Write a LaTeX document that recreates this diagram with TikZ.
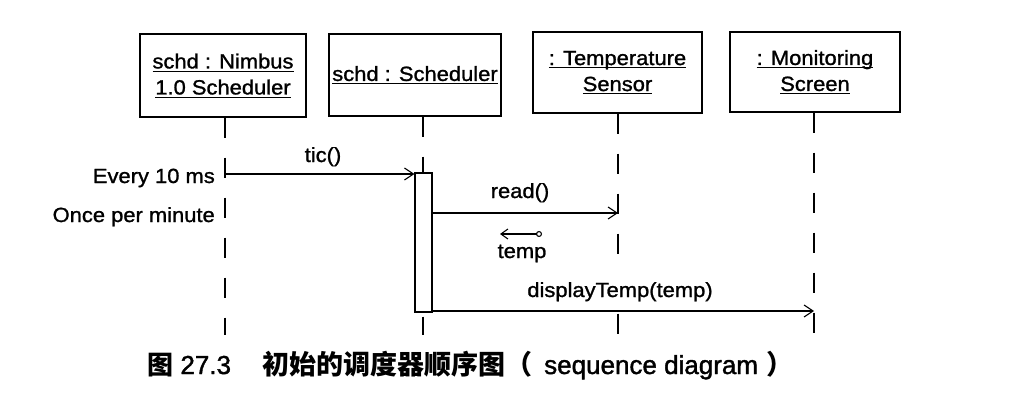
\documentclass[tikz,border=0pt]{standalone}
\usepackage{fontspec}
\setmainfont{Liberation Sans}[FakeStretch=1.07,FakeBold=1.2]
\newfontfamily\capfont{Liberation Sans}[FakeBold=1.5]
\newfontfamily\cjk{Noto Sans CJK SC}
\usetikzlibrary{arrows.meta}
\newcommand\myul[1]{\setbox0\hbox{#1}\rlap{\rule[-3pt]{\wd0}{0.9pt}}\box0}
\begin{document}
\begin{tikzpicture}[x=1pt,y=-1pt,
  obj/.style={draw, line width=1.3pt, inner sep=0pt, align=center, font=\fontsize{20.5}{26}\selectfont},
  life/.style={line width=1.2pt, dash pattern=on 20pt off 20pt},
  msg/.style={line width=1.1pt, -{Straight Barb[length=9pt,width=12pt,line width=1.1pt]}},
  lbl/.style={font=\fontsize{20.5}{24}\selectfont, inner sep=0pt}]
\useasboundingbox (0,0) rectangle (1012,409);
% objects
\node[obj, minimum width=166pt, minimum height=83pt] (b1) at (223,75.5) {\myul{schd : Nimbus}\\\myul{1.0 Scheduler}};
\node[obj, minimum width=172pt, minimum height=82pt] (b2) at (415,75) {\myul{schd : Scheduler}};
\node[obj, minimum width=169pt, minimum height=81pt] (b3) at (617.5,72.5) {\myul{: Temperature}\\\myul{Sensor}};
\node[obj, minimum width=170pt, minimum height=80pt] (b4) at (815,72) {\myul{: Monitoring}\\\myul{Screen}};
% lifeline ends
\coordinate (l1) at (225,335);
\coordinate (l2) at (423,335);
\coordinate (l3) at (618,335);
\coordinate (l4) at (814,335);
\draw[life] (l1 |- b1.south) -- (l1);
\draw[life] (l2 |- b2.south) -- (l2);
\draw[life] (l3 |- b3.south) -- (l3);
\draw[life] (l4 |- b4.south) -- (l4);
% activation
\node[draw, fill=white, line width=1.1pt, minimum width=17pt, minimum height=139pt, inner sep=0pt] (act) at (423.5,242.5) {};
% labels
\node[lbl, anchor=base] (tic) at (323,162) {tic()};
\node[lbl, anchor=base east] (every) at (215,183) {Every 10 ms};
\node[lbl, anchor=base east] (once) at (215,222) {Once per minute};
\node[lbl, anchor=base] (read) at (520,198) {read()};
\node[lbl, anchor=base] (temp) at (522,258) {temp};
\node[lbl, anchor=base, fill=white, inner ysep=9pt] (disp) at (620,297) {displayTemp(temp)};
% messages
\coordinate (tic0) at (225,174);
\coordinate (rd) at (618,213);
\coordinate (tc) at (542,234);
\coordinate (tt) at (500,234);
\coordinate (dt) at (814,311);
\draw[msg] (tic0) -- (tic0 -| act.west);
\draw[msg] (act.east |- rd) -- (rd);
\draw[line width=1.1pt, {Circle[open,length=6pt,width=6pt]}-{Straight Barb[length=7pt,width=10pt,line width=1.1pt]}] (tc) -- (tt);
\draw[msg] (act.east |- dt) -- (dt);
% caption
\node[anchor=base west, inner sep=0pt] (cap1) at (147,374) {\fontsize{26}{30}\selectfont{\cjk\bfseries 图}\capfont\ 27.3};
\node[anchor=base west, inner sep=0pt] (cap2) at (262,374) {\fontsize{27}{30}\selectfont\cjk\bfseries 初始的调度器顺序图（\hspace{12pt}{\capfont\mdseries\fontsize{26}{30}\selectfont sequence diagram}\hspace{8pt}）};
\end{tikzpicture}
\end{document}
